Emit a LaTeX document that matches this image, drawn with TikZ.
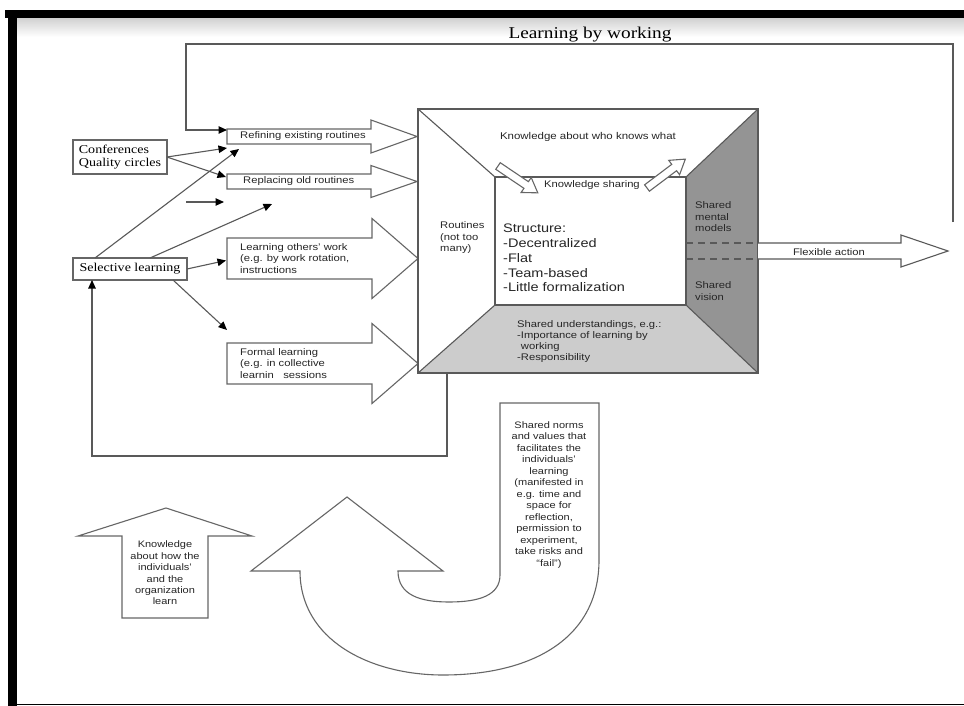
\documentclass[tikz,border=0pt]{standalone}
\usepackage{fontspec}
\setmainfont{Liberation Serif}[FakeStretch=1.17]
\setsansfont{Liberation Sans}[FakeStretch=1.17]
\usetikzlibrary{arrows.meta, positioning, calc}

% hollow block arrow: name, x tail, x head base, x tip, y axis, shaft half, head half
\newcommand{\hollowarrow}[7]{%
  \draw[hollow] (#2,#5-#6) -- (#3,#5-#6) -- (#3,#5-#7) -- (#4,#5)
    -- (#3,#5+#7) -- (#3,#5+#6) -- (#2,#5+#6) -- cycle;
  \coordinate (#1) at (#2,#5);
}

\begin{document}
\begin{tikzpicture}[
    x=1pt, y=-1pt,
    line/.style={draw=black!65, line width=1.1pt},
    link/.style={line, -{Triangle[length=8.5pt,width=7.5pt,color=black]}},
    hollow/.style={draw=black!60, line width=1.1pt, fill=white, line join=miter},
    serifbox/.style={rectangle, draw=black!60, line width=1.1pt, fill=white, align=left, inner sep=0pt, outer sep=0pt, font=\fontsize{12}{13.5}\selectfont},
    small/.style={inner sep=0pt, align=left, text=black!85, font=\sffamily\fontsize{9.6}{11.5}\selectfont},
    centred/.style={small, align=center},
    room/.style={rectangle, draw=black!60, line width=1.1pt, inner sep=0pt, outer sep=0pt},
]
    \useasboundingbox (0,0) rectangle (964,706);

    % Frame of the screenshot
    \fill[white] (0,0) rectangle (964,706);
    \shade[top color=black!18, bottom color=white] (17,18) rectangle (964,37);
    \fill[black] (5,10) rectangle (964,18);
    \fill[black] (8,10) rectangle (17,706);
    \draw[black, line width=1.3pt] (17,704.5) -- (964,704.5);

    % Title of the loop
    \node[anchor=base, inner sep=0pt, font=\fontsize{16.5}{18}\selectfont] (title) at (590,39) {Learning by working};

    % Left: sources
    \node[serifbox, minimum width=94pt, minimum height=34pt] (conf) at (120,157) {Conferences\\Quality circles};
    \node[serifbox, minimum width=114pt, minimum height=22pt] (sel) at (130,269) {Selective learning};

    % Block arrows into the organization
    \hollowarrow{refine}{227}{371}{417}{136.5}{7.5}{16.5}
    \hollowarrow{replace}{227}{371}{417}{181.5}{7.5}{16}
    \hollowarrow{others}{227}{372}{418}{258.5}{20.5}{40}
    \hollowarrow{formal}{227}{372}{418}{363.5}{20.5}{40}

    \node[small, right=13pt of refine] (refinetext) {Refining existing routines};
    \node[small, right=16pt of replace] (replacetext) {Replacing old routines};
    \node[small, right=13pt of others] (otherstext) {Learning others' work\\(e.g. by work rotation,\\instructions};
    \node[small, right=13pt of formal] (formaltext) {Formal learning\\(e.g. in collective\\learnin~~~sessions};

    % The organization as a room
    \node[room, minimum width=340pt, minimum height=264pt] (outer) at (588,241) {};
    \node[room, minimum width=191pt, minimum height=128pt] (inner) at (590.5,241) {};
    \fill[black!20] (inner.south west) -- (inner.south east) -- (outer.south east) -- (outer.south west) -- cycle;
    \fill[black!42] (inner.north east) -- (outer.north east) -- (outer.south east) -- (inner.south east) -- cycle;
    \draw[line] (outer.north west) -- (inner.north west);
    \draw[line] (outer.south west) -- (inner.south west);
    \draw[line] (outer.south east) -- (inner.south east);
    \draw[line] (outer.north east) -- (inner.north east);
    \draw[line] (outer.north west) rectangle (outer.south east);
    \draw[line] (inner.north west) rectangle (inner.south east);

    \node[small, font=\sffamily\fontsize{9.8}{11.5}\selectfont] (whoknows) at (588,137) {Knowledge about who knows what};
    \node[small] (sharing) at (592,185) {Knowledge sharing};
    \begin{scope}[shift={(498,166)}, rotate=-34]
        \hollowarrow{sharein}{0}{34}{48}{0}{4}{9}
    \end{scope}
    \begin{scope}[shift={(647,188)}, rotate=37]
        \hollowarrow{shareout}{0}{34}{48}{0}{4}{9}
    \end{scope}
    \node[small, anchor=west] (routines) at (440,238) {Routines\\(not too\\many)};
    \node[anchor=west, inner sep=0pt, align=left, text=black!85, font=\sffamily\fontsize{12.4}{14.8}\selectfont] (structure) at (503,258) {Structure:\\-Decentralized\\-Flat\\-Team-based\\-Little formalization};
    \node[small, anchor=west, font=\sffamily\fontsize{9.6}{11}\selectfont] (understand) at (517,341.5) {Shared understandings, e.g.:\\-Importance of learning by\\\hphantom{-}working\\-Responsibility};
    \node[small, anchor=west] (mental) at (695,217) {Shared\\mental\\models};
    \node[small, anchor=west] (vision) at (695,291) {Shared\\vision};

    % Flexible action leaving the room
    \coordinate (dashtop) at (686,243);
    \coordinate (dashbot) at (686,259);
    \draw[line, fill=white] (758,243) -- (901,243) -- (901,235) -- (948,251) -- (901,267) -- (901,259) -- (758,259);
    \draw[line, dashed, dash pattern=on 7pt off 5pt] (dashtop) -- (758,243);
    \draw[line, dashed, dash pattern=on 7pt off 5pt] (dashbot) -- (758,259);
    \node[small] (flex) at (829,252) {Flexible action};

    % Bottom block arrows
    \draw[hollow] (122,618) -- (122,536) -- (78,536) -- (166,508) -- (252,536) -- (208,536) -- (208,618) -- cycle;
    \node[centred, font=\sffamily\fontsize{9.4}{11.4}\selectfont] (howlearn) at (165,573) {Knowledge\\about how the\\individuals'\\and the\\organization\\learn};

    \draw[hollow] (500,403) -- (599,403) -- (599,560)
        .. controls (599,640) and (530,675) .. (443,675)
        .. controls (370,675) and (300,640) .. (300,571)
        -- (251,571) -- (347,497) -- (443,571) -- (398,571)
        .. controls (398,595) and (420,602) .. (449,602)
        .. controls (480,602) and (500,595) .. (500,575) -- cycle;
    \node[centred, font=\sffamily\fontsize{9.4}{11.5}\selectfont] (norms) at (549,495) {Shared norms\\and values that\\facilitates the\\individuals'\\learning\\(manifested in\\e.g. time and\\space for\\reflection,\\permission to\\experiment,\\take risks and\\``fail'')};

    % Free ends of the thin connectors
    \coordinate (loopstart) at (953,222);
    \coordinate (loopend) at (447,373);
    \coordinate (lonestart) at (186,202);
    \coordinate (loneend) at (224,202);

    % Arrows
    \draw[link] (loopstart) -- (953,44) -- (186,44) |- ($(refine)+(0,-6.5)$);
    \draw[link] (conf.east) -- ($(refine)+(0,11.5)$);
    \draw[link] (conf.east) -- ($(replace)+(-1,-4.5)$);
    \draw[link] ($(sel.north west)+(22,0)$) -- (239,149);
    \draw[link] ($(sel.north west)+(77,0)$) -- (272,204);
    \draw[link] (lonestart) -- (loneend);
    \draw[link] (sel.east) -- ($(others)+(-1,2)$);
    \draw[link] ($(sel.south east)+(-14,0)$) -- (227,330);
    \draw[link] (loopend) |- (92,456) -- ($(sel.south west)+(19,0)$);
\end{tikzpicture}
\end{document}
